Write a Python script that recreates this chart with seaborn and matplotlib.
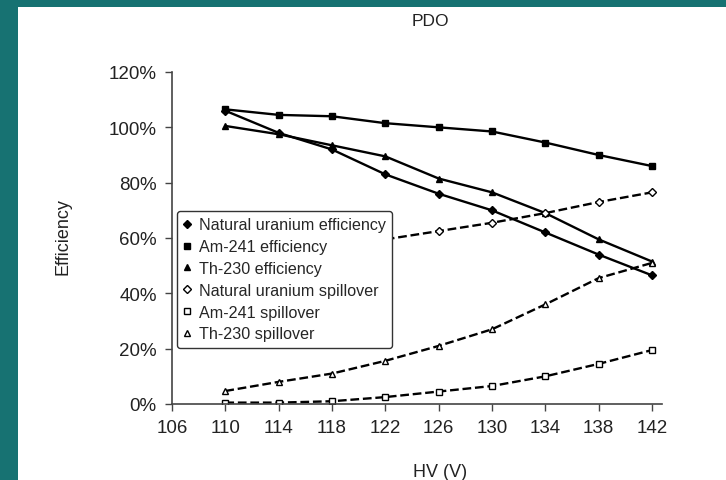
import matplotlib
matplotlib.use("Agg")
import matplotlib.pyplot as plt
import seaborn as sns
import pandas as pd
from matplotlib.ticker import FuncFormatter

sns.set_theme(style="white")
plt.rcParams['font.family'] = ['Liberation Sans', 'DejaVu Sans']

hv = [110, 114, 118, 122, 126, 130, 134, 138, 142]
nat_u_eff = [1.06, 0.98, 0.92, 0.83, 0.76, 0.70, 0.62, 0.54, 0.465]
am_eff = [1.065, 1.045, 1.04, 1.015, 1.00, 0.985, 0.945, 0.90, 0.86]
th_eff = [1.005, 0.975, 0.935, 0.895, 0.815, 0.765, 0.69, 0.595, 0.515]
nat_u_spill = [0.50, 0.54, 0.57, 0.595, 0.625, 0.655, 0.69, 0.73, 0.765]
am_spill = [0.005, 0.005, 0.01, 0.025, 0.045, 0.065, 0.10, 0.145, 0.195]
th_spill = [0.047, 0.08, 0.11, 0.156, 0.21, 0.27, 0.36, 0.455, 0.51]

labels = ["Natural uranium efficiency", "Am-241 efficiency", "Th-230 efficiency",
          "Natural uranium spillover", "Am-241 spillover", "Th-230 spillover"]
series = [nat_u_eff, am_eff, th_eff, nat_u_spill, am_spill, th_spill]
markers = ["D", "s", "^", "D", "s", "^"]
filled = [True, True, True, False, False, False]
styles = ["-", "-", "-", "--", "--", "--"]

fig = plt.figure(figsize=(7.26, 4.81), dpi=100)
fig.patch.set_facecolor("#177272")
fig.add_artist(plt.Rectangle((18/726, 0), 1, 1 - 8/481, transform=fig.transFigure,
                             facecolor="white", edgecolor="none", zorder=0))
ax = fig.add_axes([172/726, 1 - 405/481, (662-172)/726, (405-73)/481])
ax.set_facecolor("none")

for lab, vals, m, f, ls in zip(labels, series, markers, filled, styles):
    df = pd.DataFrame({"hv": hv, "eff": vals})
    sns.lineplot(data=df, x="hv", y="eff", ax=ax, color="black", linestyle=ls,
                 linewidth=1.7, marker=m, markersize=4 if m != "^" else 5,
                 markerfacecolor="black" if f else "white", markeredgecolor="black",
                 markeredgewidth=1.0, label=lab, dashes=False if ls == "-" else (4, 3))

ax.set_xlim(106, 142.75)
ax.set_ylim(0, 1.2)
ax.set_xticks([106, 110, 114, 118, 122, 126, 130, 134, 138, 142])
ax.set_yticks([0, 0.2, 0.4, 0.6, 0.8, 1.0, 1.2])
ax.yaxis.set_major_formatter(FuncFormatter(lambda v, p: f"{v*100:.0f}%"))
for s in ["top", "right"]:
    ax.spines[s].set_visible(False)
for s in ["left", "bottom"]:
    ax.spines[s].set_color("#444444")
    ax.spines[s].set_linewidth(1.2)
ax.tick_params(axis="both", which="major", direction="out", length=5, width=1,
               color="#444444", labelsize=13.5, labelcolor="#222222", left=True, bottom=True,
               pad=6)
ax.set_xlabel("")
ax.set_ylabel("")
fig.text(63/726, 1 - 237/481, "Efficiency", rotation=90, ha="center", va="center",
         fontsize=13, color="#222222")
fig.text(440/726, 1 - 473/481, "HV (V)", ha="center", va="center", fontsize=13, color="#222222")
fig.text(430/726, 1 - 21/481, "PDO", ha="center", va="center", fontsize=12.5, color="#222222")

leg = ax.legend(loc="upper left", bbox_to_anchor=((177-172)/490, (405-212)/332),
                borderaxespad=0, fontsize=11.6, frameon=True, fancybox=True, framealpha=1,
                handlelength=0.5, handletextpad=0.45, borderpad=0.4, labelspacing=0.42,
                markerscale=1.0)
leg.get_frame().set_edgecolor("#333333")
leg.get_frame().set_linewidth(1.0)
for h in leg.get_lines():
    h.set_linestyle("none")

fig.savefig("out.png", dpi=100, facecolor=fig.get_facecolor())
